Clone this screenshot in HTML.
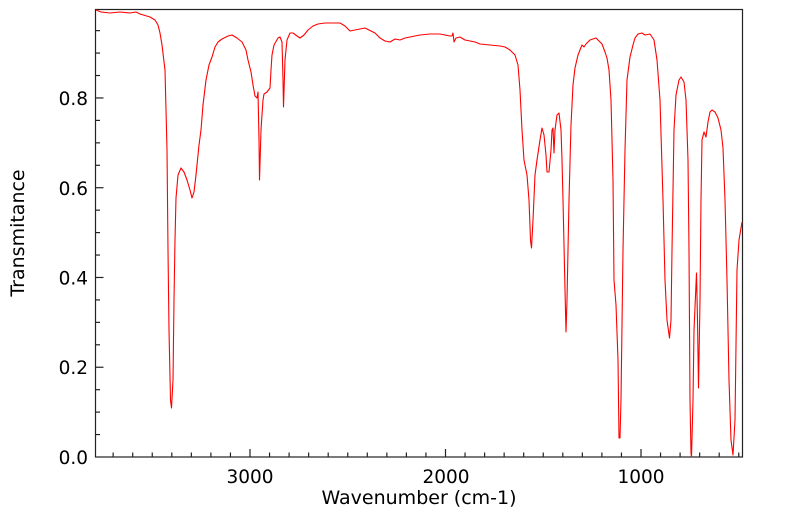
<!DOCTYPE html>
<html><head><meta charset="utf-8"><style>
html,body{margin:0;padding:0;background:#fff}
svg{display:block}
text{font-family:"DejaVu Sans","Liberation Sans",sans-serif;font-size:18.5px;fill:#000}
</style></head><body>
<svg width="799" height="516" viewBox="0 0 799 516" xmlns="http://www.w3.org/2000/svg">
<rect x="95.5" y="9.5" width="647" height="447.5" fill="none" stroke="#222" stroke-width="1.2"/>
<g id="ticks" stroke="#222" stroke-width="1.2"></g>
<polyline fill="none" stroke="#f00" stroke-width="1.1" stroke-linejoin="round" points="
96,10 101,12 110,13 120,12 130,13 136,12 140,14 150,17 155,20 158,25 160,33 162,45 165,70 167,150 168,250 169,330 170.5,400 171.5,408 173,380 174,300 175,240 176,198 178,175 181,168 184,172 187,180 190,190 192,198 194,192 196,175 199,145 201,130 203,105 206,80 209,65 212,57 215,47 218,42 222,39 228,36 232,35 237,38 242,42 246,50 248,60 251,72 253,85 255,96 257,98 258,92 259,140 259.5,180 261,130 263,100 264,94 267,92 270,88 271,70 272,55 274,45 278,38 280,37 282,42 283,80 283.5,107 285,60 287,40 290,33 293,33 297,36 300,38 304,35 308,30 313,26 318,24 325,23 330,23 340,23 345,26 350,31 355,30 365,28 375,33 380,38 385,41 390,42 395,39 400,40 405,38 410,37 415,36 420,35 430,34 440,34 450,36 452,36 453,33 454,42 456,38 460,37 465,40 470,41 475,42 480,44 490,45 500,46 505,47 510,50 515,55 518,65 520,90 522,130 524,160 527,175 529,200 530.5,240 531.5,248 533,220 535,175 537,160 540,140 542,128 544,135 546,155 547,172 549,172 551,150 552,130 553,128 554,153 555,130 557,115 559,113 561,130 562,160 563,200 565,290 566,332 567,300 569,200 571,125 573,85 575,68 578,55 582,45 584,47 586,44 590,40 596,38 602,44 605,52 607,58 609,70 611,100 613,180 614,280 616,305 618,360 619,438 620,438 621,400 623,250 625,150 627,80 630,57 633,45 635,38 638,34 642,33 645,35 650,34 654,40 657,60 660,100 663,200 665,280 667,320 669.5,338 671,320 672,250 674,130 676,95 679,80 681,77 684,82 686,100 688,160 689,250 690,400 691,453 691.5,457 693,400 694,330 696.5,273 697.5,320 698.5,388 700,300 701,200 702,140 704,132 706,137 708,122 710,112 712,110 715,112 718,118 721,130 723,148 725,200 727,280 729,380 731,440 733,455 735,420 737,270 739,240 742,222"/>
<g text-anchor="end">
<text x="88" y="464">0.0</text>
<text x="88" y="374">0.2</text>
<text x="88" y="284.5">0.4</text>
<text x="88" y="195">0.6</text>
<text x="88" y="105">0.8</text>
</g>
<g text-anchor="middle">
<text x="250" y="483">3000</text>
<text x="446" y="483">2000</text>
<text x="641" y="483">1000</text>
<text x="419" y="504" style="font-size:19px">Wavenumber (cm-1)</text>
<text transform="translate(24,233) rotate(-90)" style="font-size:19px">Transmitance</text>
</g>
</svg>
<script>
var g=document.getElementById('ticks'),s='';
for(var k=-8;k<=26;k++){var x=250+k*19.55;if(x<96||x>742)continue;var L=(k%10==0)?8:4.5;s+='<line x1="'+x+'" y1="457" x2="'+x+'" y2="'+(457-L)+'"/>';}
for(var j=1;j<=19;j++){var y=457-j*22.44;if(y<10)continue;var L=(j%4==0)?8:4.5;s+='<line x1="95.5" y1="'+y+'" x2="'+(95.5+L)+'" y2="'+y+'"/>';}
g.innerHTML=s;
</script>
</body></html>
